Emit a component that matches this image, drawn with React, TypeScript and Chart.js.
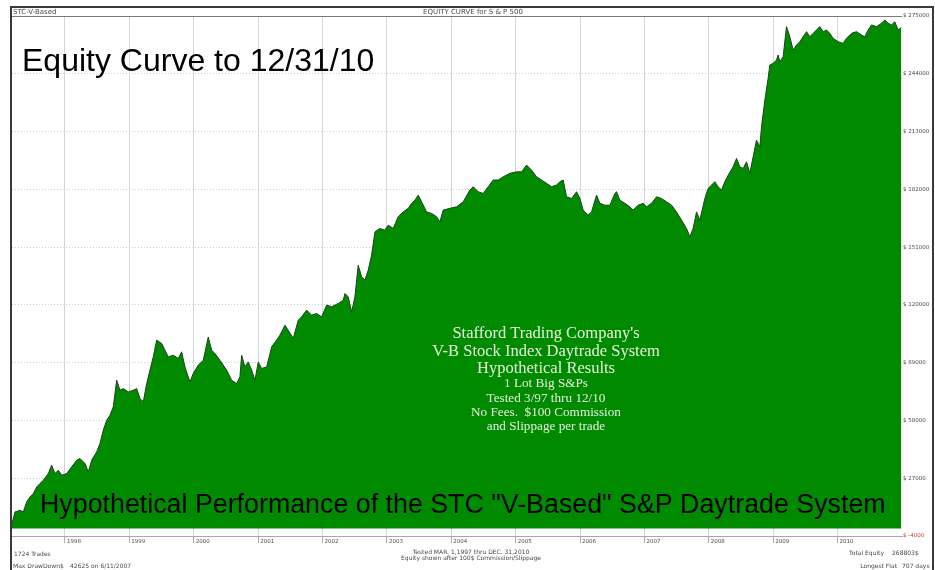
import React, { useEffect, useRef } from 'react';
import { Chart, registerables } from 'chart.js';

Chart.register(...registerables);

// Fractional year of each reading
const dates: number[] = [
  1997.177, 1997.224, 1997.301, 1997.352, 1997.405, 1997.457, 1997.508, 1997.561, 1997.612, 1997.663,
  1997.741, 1997.793, 1997.845, 1997.896, 1997.949, 1998.026, 1998.104, 1998.182, 1998.233, 1998.311,
  1998.362, 1998.415, 1998.492, 1998.543, 1998.595, 1998.648, 1998.699, 1998.750, 1998.803, 1998.854,
  1998.905, 1998.983, 1999.061, 1999.113, 1999.165, 1999.216, 1999.269, 1999.320, 1999.371, 1999.424,
  1999.502, 1999.553, 1999.604, 1999.682, 1999.759, 1999.812, 1999.863, 1999.941, 1999.992, 2000.070,
  2000.148, 2000.225, 2000.278, 2000.329, 2000.407, 2000.511, 2000.588, 2000.666, 2000.717, 2000.744,
  2000.795, 2000.846, 2000.899, 2000.950, 2001.002, 2001.054, 2001.132, 2001.210, 2001.287, 2001.339,
  2001.416, 2001.467, 2001.545, 2001.623, 2001.675, 2001.753, 2001.831, 2001.908, 2001.986, 2002.064,
  2002.141, 2002.244, 2002.322, 2002.348, 2002.399, 2002.452, 2002.503, 2002.554, 2002.607, 2002.658,
  2002.710, 2002.762, 2002.814, 2002.891, 2002.969, 2003.020, 2003.098, 2003.175, 2003.253, 2003.331,
  2003.384, 2003.435, 2003.486, 2003.539, 2003.616, 2003.694, 2003.772, 2003.823, 2003.874, 2003.978,
  2004.082, 2004.185, 2004.289, 2004.340, 2004.418, 2004.495, 2004.573, 2004.651, 2004.728, 2004.806,
  2004.910, 2005.014, 2005.092, 2005.169, 2005.247, 2005.325, 2005.402, 2005.480, 2005.557, 2005.635,
  2005.686, 2005.738, 2005.790, 2005.868, 2005.946, 2005.997, 2006.048, 2006.126, 2006.178, 2006.256,
  2006.307, 2006.385, 2006.463, 2006.540, 2006.567, 2006.618, 2006.696, 2006.773, 2006.824, 2006.902,
  2006.980, 2007.032, 2007.110, 2007.188, 2007.265, 2007.343, 2007.421, 2007.498, 2007.576, 2007.654,
  2007.705, 2007.756, 2007.809, 2007.860, 2007.938, 2007.989, 2008.042, 2008.093, 2008.144, 2008.197,
  2008.248, 2008.300, 2008.377, 2008.430, 2008.481, 2008.533, 2008.585, 2008.637, 2008.688, 2008.740,
  2008.792, 2008.818, 2008.870, 2008.921, 2008.947, 2008.999, 2009.051, 2009.076, 2009.103, 2009.154,
  2009.206, 2009.258, 2009.309, 2009.362, 2009.413, 2009.464, 2009.517, 2009.568, 2009.620, 2009.672,
  2009.724, 2009.775, 2009.827, 2009.879, 2009.930, 2010.008, 2010.085, 2010.138, 2010.216, 2010.293,
  2010.371, 2010.422, 2010.474, 2010.526, 2010.604, 2010.682, 2010.733, 2010.784, 2010.837, 2010.888,
  2010.940, 2010.990,
];

// Equity in dollars at each reading
const equity: number[] = [
  2700, 8900, 9800, 8900, 14300, 17000, 18800, 22300, 24200, 25900,
  29500, 34000, 29500, 31300, 28600, 29500, 33100, 36700, 37600, 34900,
  30400, 36700, 41100, 45600, 52800, 58100, 60800, 65300, 79600, 74200,
  75100, 73300, 74200, 75100, 69800, 68000, 77800, 85000, 92100, 101100,
  99300, 95700, 92100, 93000, 91300, 94800, 86700, 78700, 83200, 87700,
  90300, 102800, 95700, 93900, 90300, 85000, 79600, 77800, 81400, 93000,
  86700, 89400, 85000, 79600, 89400, 85900, 86700, 97500, 101100, 103800,
  109100, 106400, 102000, 111800, 113600, 117200, 114500, 115400, 113600, 119900,
  119000, 120800, 122500, 126100, 124300, 116300, 124300, 141300, 135100, 133300,
  138700, 146700, 159200, 161000, 160100, 162800, 161000, 167300, 169900, 171800,
  174500, 176200, 178900, 175300, 169900, 169100, 167300, 164600, 170900, 171800,
  172600, 175300, 181600, 183400, 180700, 179800, 183400, 187000, 187000, 188700,
  190600, 191400, 191400, 195000, 192300, 188700, 187000, 185200, 183400, 184300,
  186100, 187000, 178000, 177100, 180700, 177100, 170900, 168200, 169900, 178900,
  174500, 173500, 173500, 179800, 180700, 176200, 174500, 172600, 170900, 173500,
  174500, 172600, 174500, 178000, 177100, 175300, 173500, 169900, 165500, 161000,
  156500, 161000, 169900, 165500, 177100, 182500, 184300, 186100, 183400, 181600,
  186100, 189600, 194100, 198600, 194100, 193200, 196800, 190600, 199500, 208400,
  204800, 215600, 229900, 241600, 248700, 249600, 251400, 254100, 250500, 253200,
  269300, 263900, 256700, 259400, 261200, 263900, 266600, 263900, 265700, 267500,
  269300, 266600, 267500, 265700, 263000, 261200, 260300, 263000, 265700, 266600,
  264800, 263900, 267500, 270200, 269300, 271100, 272900, 271100, 270200, 271900,
  267500, 268800,
];

const yTicks: number[] = [-4000, 27000, 58000, 89000, 120000, 151000, 182000, 213000, 244000, 275000];
const xTicks: number[] = [1998, 1999, 2000, 2001, 2002, 2003, 2004, 2005, 2006, 2007, 2008, 2009, 2010];
const xTickLabels: string[] = ['1998', '1999', '2000', '2001', '2002', '2003', '2004', '2005', '2006', '2007', '2008', '2009', '2010'];
const xStart = 1997.177;
const xEnd = 2011.0;

const headerLeft = 'STC-V-Based';
const headerCenter = 'EQUITY CURVE for S & P 500';
const bigTitle = 'Equity Curve to 12/31/10';
const bottomTitle = 'Hypothetical Performance of the STC "V-Based" S&P Daytrade System';
const infoLarge: string[] = ["Stafford Trading Company's", 'V-B Stock Index Daytrade System', 'Hypothetical Results'];
const infoSmall: string[] = ['1 Lot Big S&Ps', 'Tested 3/97 thru 12/10', 'No Fees.  $100 Commission', 'and Slippage per trade'];
const footTrades = '1724 Trades';
const footDDLabel = 'Max DrawDown$';
const footDDValue = '42625 on 6/11/2007';
const footTested = 'Tested MAR. 1,1997 thru DEC. 31,2010';
const footEquityNote = 'Equity shown after 100$ Commission/Slippage';
const footTotalLabel = 'Total Equity';
const footTotalValue = '268803$';
const footFlatLabel = 'Longest Flat';
const footFlatValue = '707 days';

const W = 935;
const H = 570;

export default function App() {
  const ref = useRef<HTMLCanvasElement>(null);

  useEffect(() => {
    const canvas = ref.current;
    if (!canvas) return;

    const framePlugin = {
      id: 'frame',
      afterDraw(chart: any) {
        const ctx: CanvasRenderingContext2D = chart.ctx;
        ctx.save();
        // outer frame
        ctx.strokeStyle = '#3a3a3a';
        ctx.lineWidth = 2;
        ctx.beginPath();
        ctx.moveTo(11, H + 2);
        ctx.lineTo(11, 7);
        ctx.lineTo(933, 7);
        ctx.lineTo(933, H + 2);
        ctx.stroke();

        // header texts
        ctx.fillStyle = '#4a4a4a';
        ctx.textBaseline = 'middle';
        ctx.font = '7px "DejaVu Sans"';
        ctx.textAlign = 'left';
        ctx.fillText(headerLeft, 13, 12.5);
        ctx.textAlign = 'center';
        ctx.fillText(headerCenter, 473, 12.5);

        // footer texts
        ctx.font = '6px "DejaVu Sans"';
        ctx.textAlign = 'left';
        ctx.fillText(footTrades, 14, 554);
        ctx.fillText(footDDLabel, 13, 566);
        ctx.fillText(footDDValue, 70, 566);
        ctx.textAlign = 'center';
        ctx.fillText(footTested, 471, 552.5);
        ctx.fillText(footEquityNote, 471, 558.5);
        ctx.textAlign = 'right';
        ctx.fillText(footTotalLabel, 884, 553);
        ctx.fillText(footFlatLabel, 897, 566);
        ctx.textAlign = 'left';
        ctx.fillText(footTotalValue, 892, 553);
        ctx.fillText(footFlatValue, 902, 566);

        // big overlay titles
        ctx.fillStyle = '#000';
        ctx.textBaseline = 'alphabetic';
        ctx.textAlign = 'left';
        ctx.font = '32px "Liberation Sans"';
        ctx.fillText(bigTitle, 22, 71);
        ctx.font = '26.8px "Liberation Sans"';
        ctx.fillText(bottomTitle, 40, 513);

        // centre info block
        ctx.fillStyle = '#e6f3dc';
        ctx.textAlign = 'center';
        ctx.textBaseline = 'middle';
        ctx.font = '16.5px "Liberation Serif"';
        const largeY = [334, 351.5, 368.5];
        infoLarge.forEach((t, i) => ctx.fillText(t, 546, largeY[i]));
        ctx.font = '13.2px "Liberation Serif"';
        const smallY = [383.5, 398.5, 412.5, 426.5];
        infoSmall.forEach((t, i) => ctx.fillText(t, 546, smallY[i]));
        ctx.restore();
      },
    };

    const chart = new Chart(canvas, {
      type: 'line',
      data: {
        datasets: [
          {
            data: dates.map((d, i) => ({ x: d, y: equity[i] })),
            fill: 'origin',
            backgroundColor: '#008a00',
            borderColor: '#1c441c',
            borderWidth: 1,
            pointRadius: 0,
            tension: 0,
          },
        ],
      },
      options: {
        animation: false,
        responsive: false,
        devicePixelRatio: 1,
        layout: { padding: { left: 12, top: 16, right: 0, bottom: 0 } },
        plugins: { legend: { display: false }, tooltip: { enabled: false } },
        scales: {
          x: {
            type: 'linear',
            position: 'bottom',
            min: xStart,
            max: xEnd,
            afterBuildTicks: (scale: any) => {
              scale.ticks = xTicks.map((v) => ({ value: v }));
            },
            afterFit: (scale: any) => {
              scale.height = 34;
            },
            ticks: {
              autoSkip: false,
              maxRotation: 0,
              align: 'start',
              labelOffset: 2,
              padding: -5,
              color: '#4a4a4a',
              font: { family: 'DejaVu Sans', size: 5.5 },
              callback: (v: any) => {
                const i = xTicks.indexOf(Number(v));
                return i >= 0 ? xTickLabels[i] : '';
              },
            },
            grid: {
              color: '#d6d6d6',
              lineWidth: 1,
              tickLength: 7,
              tickColor: '#b0b0b0',
            },
            border: { display: true, color: '#a8a8a8', width: 1 },
          },
          y: {
            type: 'linear',
            position: 'right',
            min: -4000,
            max: 275000,
            afterBuildTicks: (scale: any) => {
              scale.ticks = yTicks.map((v) => ({ value: v }));
            },
            afterFit: (scale: any) => {
              scale.width = 33;
            },
            ticks: {
              padding: 1,
              color: (c: any) => (c.tick && c.tick.value === -4000 ? '#d03a3a' : '#4a4a4a'),
              font: { family: 'DejaVu Sans', size: 5.5 },
              callback: (v: any) => '$ ' + v,
            },
            grid: {
              drawTicks: false,
              color: (c: any) => {
                const v = c.tick ? c.tick.value : 0;
                if (v === 275000) return '#7a7a7a';
                if (v === -4000) return '#e3b0b0';
                return '#cdcdcd';
              },
              lineWidth: 1,
            },
            border: {
              display: false,
              dash: (c: any) => {
                const v = c.tick ? c.tick.value : 0;
                return v === 275000 || v === -4000 ? [] : [1, 2];
              },
            },
          },
        },
      } as any,
      plugins: [framePlugin],
    });

    return () => chart.destroy();
  }, []);

  return (
    <div style={{ position: 'absolute', left: 0, top: 0, width: W, height: H, background: '#ffffff' }}>
      <canvas ref={ref} width={W} height={H} style={{ display: 'block' }} />
    </div>
  );
}
